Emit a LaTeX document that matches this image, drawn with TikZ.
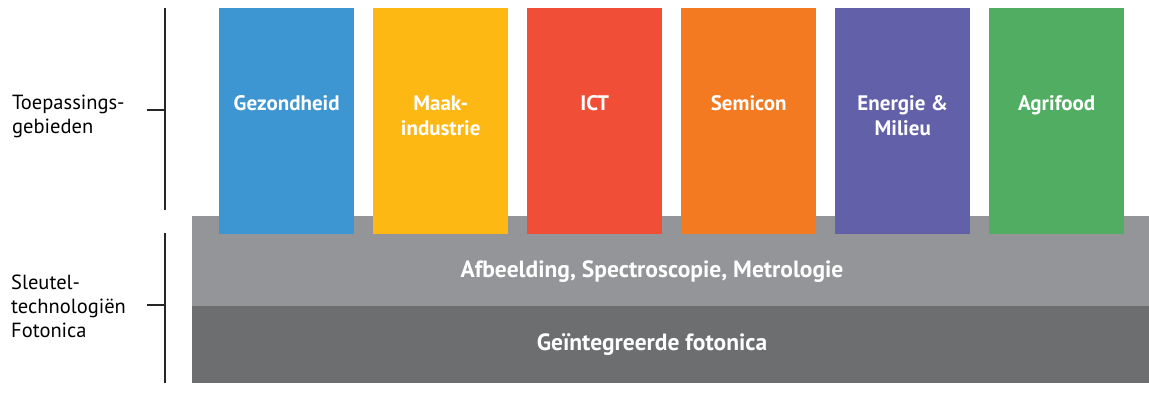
\documentclass[tikz,border=0pt]{standalone}
\usepackage{fontspec}
\setmainfont{PT Sans}
\definecolor{cblue}{HTML}{3D95D1}
\definecolor{cyellow}{HTML}{FDB813}
\definecolor{cred}{HTML}{F04E37}
\definecolor{corange}{HTML}{F37A20}
\definecolor{cpurple}{HTML}{6260A9}
\definecolor{cgreen}{HTML}{51AD61}
\definecolor{lgray}{HTML}{939598}
\definecolor{dgray}{HTML}{6D6E70}
\begin{document}
\begin{tikzpicture}[x=1pt,y=-1pt,
  area/.style={draw=none,inner sep=0pt,minimum width=135pt,minimum height=226pt,anchor=north west},
  band/.style={draw=none,inner sep=0pt,anchor=north west,minimum width=957pt},
  areatext/.style={text=white,font=\fontsize{21}{25}\selectfont\bfseries,align=center,anchor=base,inner sep=0pt},
  bandtext/.style={text=white,font=\fontsize{23.5}{25}\selectfont\bfseries,anchor=base,inner sep=0pt},
  side/.style={anchor=base west,inner sep=0pt,align=left,font=\fontsize{20.5}{24}\selectfont},
  brace/.style={line width=1.6pt,color=black!85}]
\useasboundingbox (0,0) rectangle (1149,413);
% technology layers
\node[band,fill=lgray,minimum height=90pt] (layA) at (192,216) {};
\node[band,fill=dgray,minimum height=77pt] (layB) at (192,306) {};
\node[bandtext] (tA) at (652,277) {Afbeelding, Spectroscopie, Metrologie};
\node[bandtext] (tB) at (652,350) {Geïntegreerde fotonica};
% application areas
\node[area,fill=cblue]   (a1) at (219,8) {};
\node[area,fill=cyellow] (a2) at (373,8) {};
\node[area,fill=cred]    (a3) at (527,8) {};
\node[area,fill=corange] (a4) at (681,8) {};
\node[area,fill=cpurple] (a5) at (835,8) {};
\node[area,fill=cgreen]  (a6) at (989,8) {};
% labels: the base anchor sits on the last line's baseline
\foreach \n/\t/\d in {a1/Gezondheid/102,a2/{Maak-\\industrie}/127,a3/ICT/102,a4/Semicon/102,a5/{Energie \&\\Milieu}/127,a6/Agrifood/102}
  \node[areatext] (\n t) at ([yshift=-\d pt]\n.north) {\t};
% side brackets
\coordinate (b1t) at (165,8);
\coordinate (b1b) at (165,210);
\coordinate (b1m) at (165,110);
\coordinate (b1e) at (147,110);
\draw[brace] (b1t) -- (b1b);
\draw[brace] (b1m) -- (b1e);
\coordinate (b2t) at (165,233);
\coordinate (b2b) at (165,383);
\coordinate (b2m) at (165,305);
\coordinate (b2e) at (147,305);
\draw[brace] (b2t) -- (b2b);
\draw[brace] (b2m) -- (b2e);
\node[side] (s1) at (12,133) {Toepassings-\\gebieden};
\node[side] (s2) at (11,337) {Sleutel-\\technologiën\\Fotonica};
\end{tikzpicture}
\end{document}
